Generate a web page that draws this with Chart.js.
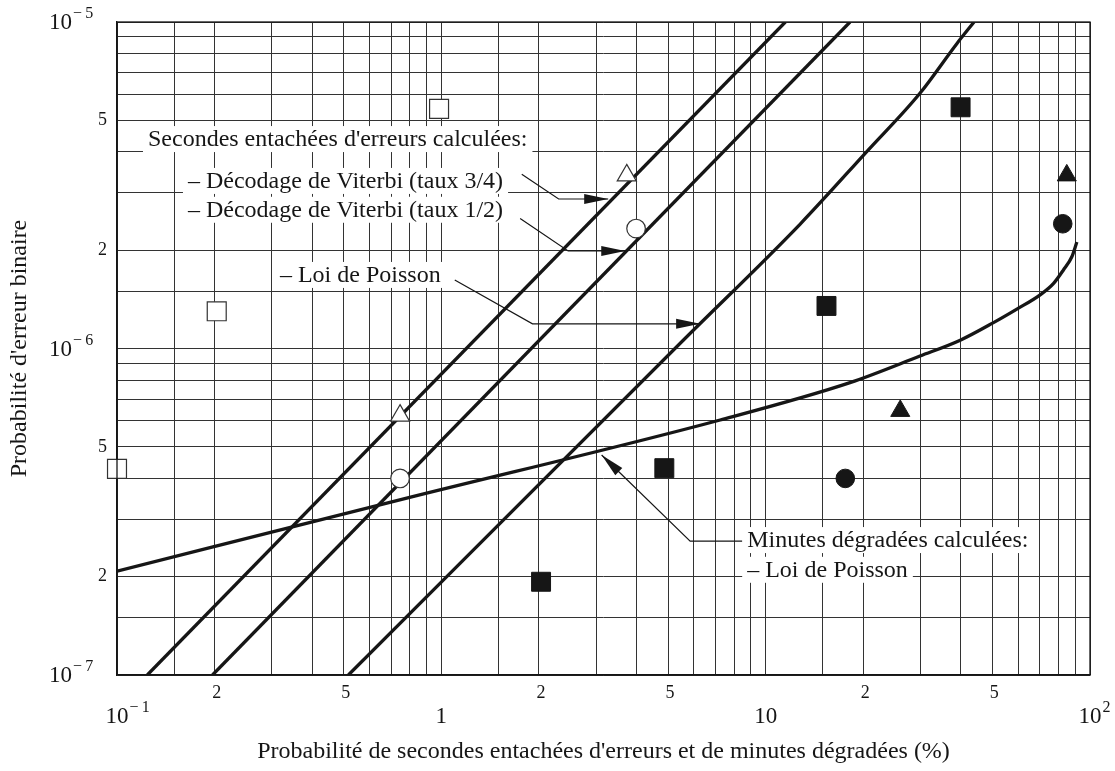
<!DOCTYPE html>
<html lang="fr">
<head>
<meta charset="UTF-8">
<title>Probabilité d'erreur binaire</title>
<script src="https://cdn.jsdelivr.net/npm/chart.js"></script>
<style>
    html, body { margin: 0; padding: 0; background: #fff; }
</style>
</head>
<body>
<canvas id="grafico" width="1115" height="771"></canvas>

<script>
    // Courbes calculées (abscisse en %, ordonnée = probabilité d'erreur binaire)
    const viterbi34X = [0.124, 11.5];
    const viterbi34Y = [1e-7, 1e-5];
    const viterbi12X = [0.197, 18.2];
    const viterbi12Y = [1e-7, 1e-5];
    const poissonSecX = [0.517, 5.57, 12.8, 20.5, 29.9, 38.9, 43.9];
    const poissonSecY = [1e-7, 1.06e-6, 2.41e-6, 4.01e-6, 6.05e-6, 8.6e-6, 1e-5];
    const poissonMinX = [0.1, 0.755, 7.24, 18.2, 29.9, 39.8, 50.4, 59.5, 70.2, 77.1, 82.8, 87.9, 91.1];
    const poissonMinY = [2.08e-7, 3.45e-7, 6.04e-7, 7.86e-7, 9.48e-7, 1.06e-6, 1.2e-6, 1.32e-6, 1.46e-6, 1.58e-6, 1.74e-6, 1.91e-6, 2.12e-6];

    // Points mesurés
    const carresVidesX = [0.1, 0.203, 0.984];
    const carresVidesY = [4.28e-7, 1.30e-6, 5.42e-6];
    const trianglesVidesX = [0.746, 3.73];
    const trianglesVidesY = [6.23e-7, 3.39e-6];
    const cerclesVidesX = [0.746, 3.985];
    const cerclesVidesY = [4.0e-7, 2.33e-6];
    const carresPleinsX = [2.03, 4.87, 15.4, 39.9];
    const carresPleinsY = [1.93e-7, 4.30e-7, 1.35e-6, 5.48e-6];
    const trianglesPleinsX = [26.0, 84.8];
    const trianglesPleinsY = [6.44e-7, 3.39e-6];
    const cerclesPleinsX = [17.6, 82.4];
    const cerclesPleinsY = [4.0e-7, 2.41e-6];

    // Graduations
    const xGrille = [];
    const yGrille = [];
    [0.1, 1, 10].forEach(d => [1, 1.5, 2, 3, 4, 5, 6, 7, 8, 9].forEach(m => xGrille.push(m * d)));
    xGrille.push(100);
    [1e-7, 1e-6].forEach(d => [1, 1.5, 2, 3, 4, 5, 6, 7, 8, 9].forEach(m => yGrille.push(m * d)));
    yGrille.push(1e-5);

    const xTicks = [0.1, 0.2, 0.5, 1, 2, 5, 10, 20, 50, 100];
    const xTickLabels = ['10^-1', '2', '5', '1', '2', '5', '10', '2', '5', '10^2'];
    const yTicks = [1e-7, 2e-7, 5e-7, 1e-6, 2e-6, 5e-6, 1e-5];
    const yTickLabels = ['10^-7', '2', '5', '10^-6', '2', '5', '10^-5'];

    // Légendes posées sur le graphique et leurs traits de rappel
    const notesTextes = [
        "Secondes entachées d'erreurs calculées:",
        '– Décodage de Viterbi (taux 3/4)',
        '– Décodage de Viterbi (taux 1/2)',
        '– Loi de Poisson',
        'Minutes dégradées calculées:',
        '– Loi de Poisson'
    ];
    const notesX = [0.1246, 0.1655, 0.1655, 0.318, 8.77, 8.77];
    const notesY = [4.38e-6, 3.26e-6, 2.66e-6, 1.68e-6, 2.59e-7, 2.10e-7];
    const rappels = [
        [[1.77, 3.42e-6], [2.30, 2.87e-6], [3.27, 2.87e-6]],
        [[1.75, 2.50e-6], [2.46, 1.99e-6], [3.69, 1.99e-6]],
        [[1.10, 1.62e-6], [1.91, 1.19e-6], [6.28, 1.19e-6]],
        [[8.46, 2.57e-7], [5.85, 2.57e-7], [3.12, 4.72e-7]]
    ];

    const police = '"Liberation Serif", "Times New Roman", serif';
    const encre = '#161616';

    function points(xs, ys) {
        return xs.map((x, i) => ({ x: x, y: ys[i] }));
    }

    function courbe(xs, ys, lisse) {
        return {
            data: points(xs, ys),
            showLine: true,
            borderColor: encre,
            borderWidth: 3.3,
            pointRadius: 0,
            cubicInterpolationMode: lisse ? 'monotone' : 'default',
            order: 2
        };
    }

    function marqueurs(xs, ys, forme, taille, plein) {
        return {
            data: points(xs, ys),
            showLine: false,
            pointStyle: forme,
            pointRadius: taille,
            backgroundColor: plein ? encre : '#fff',
            borderColor: plein ? encre : '#333',
            borderWidth: plein ? 1 : 1.2,
            clip: false,
            order: 1
        };
    }

    function ecrireExposant(ctx, texte, x, y, align) {
        const morceaux = texte.split('^');
        ctx.font = '23px ' + police;
        const w = ctx.measureText(morceaux[0]).width;
        let debut = x - w / 2;
        if (align === 'right') debut = x - w;
        ctx.textAlign = 'left';
        ctx.textBaseline = 'middle';
        ctx.fillText(morceaux[0], debut, y);
        if (morceaux[1]) {
            ctx.font = '16px ' + police;
            ctx.fillText(morceaux[1].replace('-', '−\u2009'), debut + w + 1, y - 9);
        }
    }

    function estPuissance(v) {
        return Math.abs(Math.log10(v) - Math.round(Math.log10(v))) < 1e-9;
    }

    const etiquettesAxes = {
        id: 'etiquettesAxes',
        afterDraw(chart) {
            const { ctx, chartArea, scales } = chart;
            ctx.save();
            ctx.fillStyle = encre;
            xTicks.forEach((v, i) => {
                const px = scales.x.getPixelForValue(v);
                if (estPuissance(v)) {
                    ecrireExposant(ctx, xTickLabels[i], px, chartArea.bottom + 42, 'center');
                } else {
                    ctx.font = '18px ' + police;
                    ctx.textAlign = 'center';
                    ctx.textBaseline = 'middle';
                    ctx.fillText(xTickLabels[i], px + 2, chartArea.bottom + 18);
                }
            });
            yTicks.forEach((v, i) => {
                const py = scales.y.getPixelForValue(v);
                if (estPuissance(v)) {
                    ecrireExposant(ctx, yTickLabels[i], chartArea.left - 45, py + 1, 'right');
                } else {
                    ctx.font = '18px ' + police;
                    ctx.textAlign = 'right';
                    ctx.textBaseline = 'middle';
                    ctx.fillText(yTickLabels[i], chartArea.left - 10, py);
                }
            });
            ctx.restore();
        }
    };

    // Textes sur fond blanc : ils masquent le quadrillage mais pas les courbes
    const notes = {
        id: 'notes',
        beforeDatasetsDraw(chart) {
            const { ctx, scales } = chart;
            ctx.save();
            ctx.font = '24px ' + police;
            ctx.textAlign = 'left';
            ctx.textBaseline = 'middle';
            notesTextes.forEach((t, i) => {
                const px = scales.x.getPixelForValue(notesX[i]);
                const py = scales.y.getPixelForValue(notesY[i]);
                const w = ctx.measureText(t).width;
                ctx.fillStyle = '#fff';
                ctx.fillRect(px - 5, py - 13, w + 10, 26);
                ctx.fillStyle = encre;
                ctx.fillText(t, px, py + 1);
            });
            ctx.restore();
        },
        afterDatasetsDraw(chart) {
            const { ctx, scales } = chart;
            ctx.save();
            ctx.strokeStyle = encre;
            ctx.fillStyle = encre;
            ctx.lineWidth = 1.2;
            rappels.forEach(trait => {
                const p = trait.map(([x, y]) => [scales.x.getPixelForValue(x), scales.y.getPixelForValue(y)]);
                ctx.beginPath();
                ctx.moveTo(p[0][0], p[0][1]);
                for (let k = 1; k < p.length; k++) ctx.lineTo(p[k][0], p[k][1]);
                ctx.stroke();

                // pointe de flèche
                const [ax, ay] = p[p.length - 2];
                const [bx, by] = p[p.length - 1];
                const d = Math.hypot(bx - ax, by - ay);
                const ux = (bx - ax) / d, uy = (by - ay) / d;
                const long = 24, demi = 5;
                ctx.beginPath();
                ctx.moveTo(bx, by);
                ctx.lineTo(bx - ux * long - uy * demi, by - uy * long + ux * demi);
                ctx.lineTo(bx - ux * long + uy * demi, by - uy * long - ux * demi);
                ctx.closePath();
                ctx.fill();
            });
            ctx.restore();
        }
    };

    const cadre = {
        id: 'cadre',
        afterDatasetsDraw(chart) {
            const { ctx, chartArea: a } = chart;
            ctx.save();
            ctx.strokeStyle = encre;
            ctx.lineWidth = 1.3;
            ctx.strokeRect(a.left, a.top, a.right - a.left, a.bottom - a.top);
            ctx.restore();
        }
    };

    new Chart(document.getElementById('grafico'), {
        type: 'scatter',
        data: {
            datasets: [
                courbe(viterbi34X, viterbi34Y, false),
                courbe(viterbi12X, viterbi12Y, false),
                courbe(poissonSecX, poissonSecY, true),
                courbe(poissonMinX, poissonMinY, true),
                marqueurs(carresVidesX, carresVidesY, 'rect', 13.4, false),
                marqueurs(trianglesVidesX, trianglesVidesY, 'triangle', 11, false),
                marqueurs(cerclesVidesX, cerclesVidesY, 'circle', 9.3, false),
                marqueurs(carresPleinsX, carresPleinsY, 'rect', 13.4, true),
                marqueurs(trianglesPleinsX, trianglesPleinsY, 'triangle', 11, true),
                marqueurs(cerclesPleinsX, cerclesPleinsY, 'circle', 9.3, true)
            ]
        },
        options: {
            responsive: false,
            animation: false,
            devicePixelRatio: 1,
            layout: { padding: { top: 22, right: 25, left: 0, bottom: 0 } },
            plugins: {
                legend: { display: false },
                tooltip: { enabled: false }
            },
            scales: {
                x: {
                    type: 'logarithmic',
                    min: 0.1,
                    max: 100,
                    afterBuildTicks: s => { s.ticks = xGrille.map(v => ({ value: v })); },
                    afterFit: s => { s.height = 96; },
                    ticks: { display: false },
                    grid: { color: '#333', lineWidth: 1, drawTicks: false },
                    border: { color: encre, width: 1.3 },
                    title: {
                        display: true,
                        text: "Probabilité de secondes entachées d'erreurs et de minutes dégradées (%)",
                        color: encre,
                        font: { family: police, size: 24 },
                        padding: { top: 0, bottom: 5 }
                    }
                },
                y: {
                    type: 'logarithmic',
                    min: 1e-7,
                    max: 1e-5,
                    afterBuildTicks: s => { s.ticks = yGrille.map(v => ({ value: v })); },
                    afterFit: s => { s.width = 117; },
                    ticks: { display: false },
                    grid: { color: '#333', lineWidth: 1, drawTicks: false },
                    border: { color: encre, width: 1.3 },
                    title: {
                        display: true,
                        text: "Probabilité d'erreur binaire",
                        color: encre,
                        font: { family: police, size: 24 },
                        padding: { top: 5, bottom: 0 }
                    }
                }
            }
        },
        plugins: [etiquettesAxes, notes, cadre]
    });
</script>
</body>
</html>
